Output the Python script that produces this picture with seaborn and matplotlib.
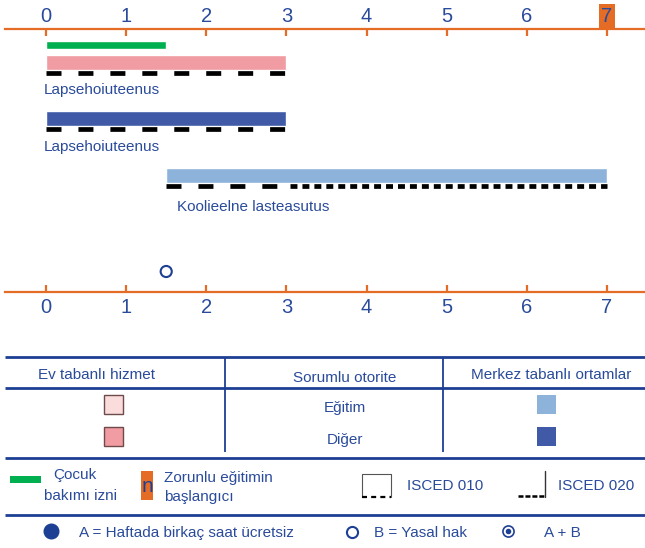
import matplotlib
matplotlib.use("Agg")
import matplotlib.pyplot as plt
import matplotlib.patches as mpatches
from matplotlib.transforms import ScaledTranslation
import seaborn as sns

# ---------------------------------------------------------------
# data
# ---------------------------------------------------------------
ages = [0, 1, 2, 3, 4, 5, 6, 7]
compulsory_start = 7

leave_start, leave_end = 0, 1.5

bar_starts = [0, 0, 1.5]
bar_ends = [3, 3, 7]
bar_labels = ["Lapsehoiuteenus", "Lapsehoiuteenus", "Koolieelne lasteasutus"]
bar_colors = ["#f19ba2", "#405aa8", "#8db3da"]

isced010 = [(0, 3), (0, 3), (1.5, 3)]
isced020 = [None, None, (3, 7)]

entitlement_age = 1.5   # B = legal entitlement

table_headers = ["Ev tabanlı hizmet", "Sorumlu otorite", "Merkez tabanlı ortamlar"]
authorities = ["Eğitim", "Diğer"]
home_colors = ["#fadcdd", "#f19ba2"]
centre_colors = ["#8db3da", "#405aa8"]

# ---------------------------------------------------------------
# style
# ---------------------------------------------------------------
ORANGE = "#e46c24"
BLUE_TXT = "#2a4b9b"
NAVY = "#1d3f94"
GREEN = "#00b050"

sns.set_theme(style="white")
plt.rcParams["font.family"] = ["Liberation Sans", "DejaVu Sans"]
plt.rcParams["lines.scale_dashes"] = False

W, H = 645, 548
fig = plt.figure(figsize=(W / 100, H / 100), dpi=100)

# ---------------------------------------------------------------
# timeline (y in pixel rows from top)
# ---------------------------------------------------------------
y_top, y_bot = 29, 292
ax = fig.add_axes([5 / W, (H - y_bot) / H, 640 / W, (y_bot - y_top) / H])
x0_px, unit = 46, 80.14
ax.set_xlim((5 - x0_px) / unit, (645 - x0_px) / unit)
ax.set_ylim(y_bot, y_top)

for s in ["left", "right"]:
    ax.spines[s].set_visible(False)
for s in ["top", "bottom"]:
    ax.spines[s].set_color(ORANGE)
    ax.spines[s].set_linewidth(1.6)

ax.set_xticks(ages)
ax.set_xticklabels([str(a) for a in ages])
ax.set_yticks([])
ax.tick_params(axis="x", top=True, bottom=True, labeltop=True, labelbottom=True,
               direction="in", length=5, width=1.6, color=ORANGE,
               labelcolor=BLUE_TXT, labelsize=14.5, pad=2.5)
shift_down = ScaledTranslation(0, -3 / 100, fig.dpi_scale_trans)
for tick in ax.xaxis.get_major_ticks():
    tick.label1.set_transform(tick.label1.get_transform() + shift_down)
    if tick.get_loc() == compulsory_start:
        tick.label2.set_bbox(dict(facecolor=ORANGE, edgecolor="none", pad=1.6))

# childcare leave
ax.barh(45, leave_end - leave_start, left=leave_start, height=8, color=GREEN)

row_y = [62.5, 118.5, 175.5]
label_dx = [-0.03, -0.03, 0.13]
label_dy = [27.5, 28.5, 31.5]
for i in range(len(bar_starts)):
    ax.barh(row_y[i], bar_ends[i] - bar_starts[i], left=bar_starts[i],
            height=15, color=bar_colors[i])
    dy = row_y[i] + 10
    s, e = isced010[i]
    ax.plot([s, e], [dy, dy], color="black", lw=3.4, dashes=(10.8, 12.2))
    if isced020[i] is not None:
        s, e = isced020[i]
        ax.plot([s + 0.04, e], [dy, dy], color="black", lw=3.4, dashes=(5.0, 3.6))
    ax.text(bar_starts[i] + label_dx[i], row_y[i] + label_dy[i], bar_labels[i],
            ha="left", va="center", fontsize=11, color=BLUE_TXT)

sns.scatterplot(x=[entitlement_age], y=[271.5], ax=ax, marker="o", s=64,
                facecolor="none", edgecolor=NAVY, linewidth=1.5, legend=False)

# ---------------------------------------------------------------
# table + legend (pixel coordinates)
# ---------------------------------------------------------------
lg = fig.add_axes([0, 0, 1, (H - 340) / H])
lg.set_xlim(0, W)
lg.set_ylim(H, 340)
lg.axis("off")

lg.hlines([357, 388, 458, 515], 5, 645, color=NAVY, lw=2.0)
lg.vlines([225, 443], 357, 452, color=NAVY, lw=1.3)

for txt, x, y in zip(table_headers, [97, 345, 551], [375, 378, 375]):
    lg.text(x, y, txt, ha="center", va="center", fontsize=11, color=BLUE_TXT)

row_ys = [404, 436]
for i, name in enumerate(authorities):
    lg.text(345, row_ys[i] + 4, name, ha="center", va="center", fontsize=11,
            color=BLUE_TXT)
    lg.add_patch(mpatches.Rectangle((104, row_ys[i] - 9.5), 19, 19,
                                    facecolor=home_colors[i], edgecolor="#6e4a4a", lw=1))
    lg.add_patch(mpatches.Rectangle((537, row_ys[i] - 9.5), 19, 19,
                                    facecolor=centre_colors[i], edgecolor="none"))

# legend row 1
lg.add_patch(mpatches.Rectangle((10, 476), 31, 7, facecolor=GREEN, edgecolor="none"))
lg.text(75, 475, "Çocuk", ha="center", va="center", fontsize=11, color=BLUE_TXT)
lg.text(80, 496, "bakımı izni", ha="center", va="center", fontsize=11, color=BLUE_TXT)

lg.add_patch(mpatches.Rectangle((141, 471), 12, 29, facecolor=ORANGE, edgecolor="none"))
lg.text(147, 486, "n", ha="center", va="center", fontsize=15, color=NAVY)
lg.text(164, 478, "Zorunlu eğitimin", ha="left", va="center", fontsize=11, color=BLUE_TXT)
lg.text(164, 497, "başlangıcı", ha="left", va="center", fontsize=11, color=BLUE_TXT)

lg.plot([362, 362, 391, 391], [497, 474, 474, 497], color="#555555", lw=0.8)
lg.plot([362, 391], [497, 497], color="black", lw=1.6, dashes=(3.6, 3.0))
lg.text(407, 486, "ISCED 010", ha="left", va="center", fontsize=11, color=BLUE_TXT)

lg.plot([545, 545], [471, 497], color="#333333", lw=1.0)
lg.plot([518, 545], [496, 496], color="black", lw=1.8, dashes=(3.6, 1.4))
lg.text(558, 486, "ISCED 020", ha="left", va="center", fontsize=11, color=BLUE_TXT)

# legend row 2
lg.plot([51], [531], marker="o", ms=10.5, color=NAVY, mec=NAVY)
lg.text(79, 533, "A = Haftada birkaç saat ücretsiz", ha="left", va="center",
        fontsize=11, color=BLUE_TXT)
lg.plot([352], [532], marker="o", ms=8, mfc="none", mec=NAVY, mew=1.5)
lg.text(374, 533, "B = Yasal hak", ha="left", va="center", fontsize=11, color=BLUE_TXT)
lg.plot([508], [531], marker="o", ms=8, mfc="none", mec=NAVY, mew=1.2)
lg.plot([508], [531], marker="o", ms=3, color=NAVY)
lg.text(544, 533, "A + B", ha="left", va="center", fontsize=11, color=BLUE_TXT)

fig.savefig("out.png", dpi=100)
